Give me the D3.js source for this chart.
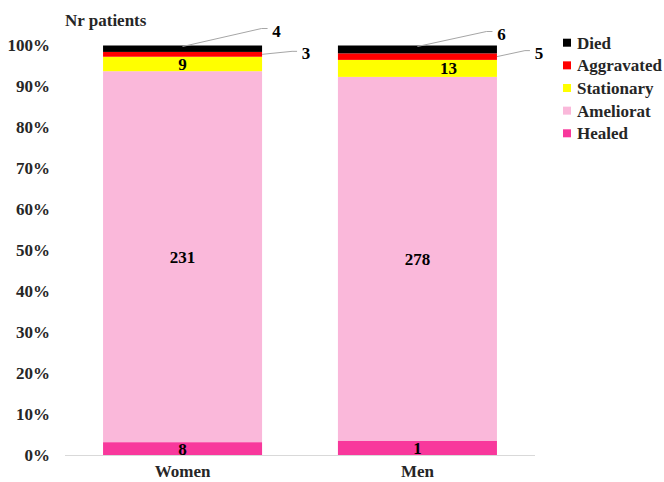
<!DOCTYPE html>
<html><head><meta charset="utf-8">
<script src="https://cdn.jsdelivr.net/npm/d3@7"></script>
</head>
<body style="margin:0;background:#fff"><svg id="c" width="664" height="482"></svg>
<script>
// ---- data ----
const categories = ["Women", "Men"];
const seriesNames = ["Healed", "Ameliorat", "Stationary", "Aggravated", "Died"];
const healed     = [8, 11];
const ameliorat  = [231, 278];
const stationary = [9, 13];
const aggravated = [3, 5];
const died       = [4, 6];
// data labels as printed on the chart
const healedLabels     = ["8", "1"];
const amelioratLabels  = ["231", "278"];
const stationaryLabels = ["9", "13"];
const aggravatedLabels = ["3", "5"];
const diedLabels       = ["4", "6"];
const yTicks = [0, 0.1, 0.2, 0.3, 0.4, 0.5, 0.6, 0.7, 0.8, 0.9, 1.0];
const yTitle = "Nr patients";

const FONT = '"Liberation Serif"';
const colors = {
  Healed: "#f8389c", Ameliorat: "#fab8da", Stationary: "#ffff00",
  Aggravated: "#ff0000", Died: "#000000"
};
const valuesBySeries = {Healed: healed, Ameliorat: ameliorat, Stationary: stationary, Aggravated: aggravated, Died: died};
const labelsBySeries = {Healed: healedLabels, Ameliorat: amelioratLabels, Stationary: stationaryLabels, Aggravated: aggravatedLabels, Died: diedLabels};

const rows = categories.map((c, i) => {
  const r = {cat: c};
  seriesNames.forEach(s => r[s] = valuesBySeries[s][i]);
  return r;
});
const stacked = d3.stack().keys(seriesNames).offset(d3.stackOffsetExpand)(rows);

const svg = d3.select("#c");
const x = d3.scaleBand().domain(categories).range([65, 535]).paddingInner(0.323).paddingOuter(0.162);
const y = d3.scaleLinear().domain([0, 1]).range([455, 45.5]);

function txt(sel, size, fill) {
  return sel.style("font-family", FONT).style("font-weight", "bold")
    .attr("font-size", size).attr("fill", fill);
}

// axis baseline
svg.append("line").attr("x1", 65).attr("x2", 535).attr("y1", 455.5).attr("y2", 455.5)
  .attr("stroke", "#d9d9d9").attr("stroke-width", 1);

// bars
const layers = svg.append("g").selectAll("g").data(stacked).join("g")
  .attr("fill", d => colors[d.key]);
layers.selectAll("rect").data(d => d.map((v, i) => ({v, i, key: d.key}))).join("rect")
  .attr("x", d => x(categories[d.i]))
  .attr("width", x.bandwidth())
  .attr("y", d => y(d.v[1]))
  .attr("height", d => y(d.v[0]) - y(d.v[1]));

// y axis
const yAxis = d3.axisLeft(y).tickValues(yTicks).tickFormat(d3.format(".0%")).tickSize(0).tickPadding(0);
const yg = svg.append("g").attr("transform", "translate(50,0)").call(yAxis);
yg.select(".domain").remove();
txt(yg.selectAll("text"), 17, "#262626");

// x axis labels
const xAxis = d3.axisBottom(x).tickSize(0).tickPadding(0);
const xg = svg.append("g").attr("transform", "translate(0,465)").call(xAxis);
xg.select(".domain").remove();
txt(xg.selectAll("text"), 17, "#262626").attr("dy", "0.71em");

// y title
txt(svg.append("text").attr("x", 65).attr("y", 26), 17, "#262626").text(yTitle);

// in-bar labels
const inside = ["Healed", "Ameliorat", "Stationary"];
const insideDx = {Healed: [0, 0], Ameliorat: [0, 0], Stationary: [0, 31]};
stacked.filter(s => inside.includes(s.key)).forEach(s => {
  s.forEach((v, i) => {
    txt(svg.append("text")
      .attr("x", x(categories[i]) + x.bandwidth() / 2 + insideDx[s.key][i])
      .attr("y", (y(v[0]) + y(v[1])) / 2)
      .attr("dy", "0.35em").attr("text-anchor", "middle"), 17, "#000")
      .text(labelsBySeries[s.key][i]);
  });
});

// outside labels with leader lines
const diedLayer = stacked.find(s => s.key === "Died");
const aggLayer = stacked.find(s => s.key === "Aggravated");
const diedOff = [[94, -14], [84, -11]];   // label offset from bar center / top
const aggOff = [[44, -1], [42, -4]];      // label offset from bar right edge / segment middle
categories.forEach((c, i) => {
  const cx = x(c) + x.bandwidth() / 2;
  const topY = y(diedLayer[i][1]);
  const lx = cx + diedOff[i][0], ly = topY + diedOff[i][1];
  svg.append("polyline")
    .attr("points", [[cx, topY + 1], [lx - 15, ly - 3], [lx - 9, ly - 3]].map(p => p.join(",")).join(" "))
    .attr("fill", "none").attr("stroke", "#a6a6a6").attr("stroke-width", 1);
  txt(svg.append("text").attr("x", lx).attr("y", ly).attr("dy", "0.35em").attr("text-anchor", "middle"), 17, "#000")
    .text(diedLabels[i]);

  const rx = x(c) + x.bandwidth();
  const my = (y(aggLayer[i][0]) + y(aggLayer[i][1])) / 2;
  const ax = rx + aggOff[i][0], ay = my + aggOff[i][1];
  svg.append("polyline")
    .attr("points", [[rx, my], [ax - 14, ay - 2], [ax - 9, ay - 2]].map(p => p.join(",")).join(" "))
    .attr("fill", "none").attr("stroke", "#a6a6a6").attr("stroke-width", 1);
  txt(svg.append("text").attr("x", ax).attr("y", ay).attr("dy", "0.35em").attr("text-anchor", "middle"), 17, "#000")
    .text(aggravatedLabels[i]);
});

// legend
const legendOrder = ["Died", "Aggravated", "Stationary", "Ameliorat", "Healed"];
const lg = svg.append("g").selectAll("g").data(legendOrder).join("g")
  .attr("transform", (d, i) => `translate(563,${42.7 + i * 22.65})`);
lg.append("rect").attr("x", 0).attr("y", -4).attr("width", 8).attr("height", 8).attr("fill", d => colors[d]);
txt(lg.append("text").attr("x", 14).attr("dy", "0.35em"), 17, "#262626").text(d => d);
</script></body></html>
